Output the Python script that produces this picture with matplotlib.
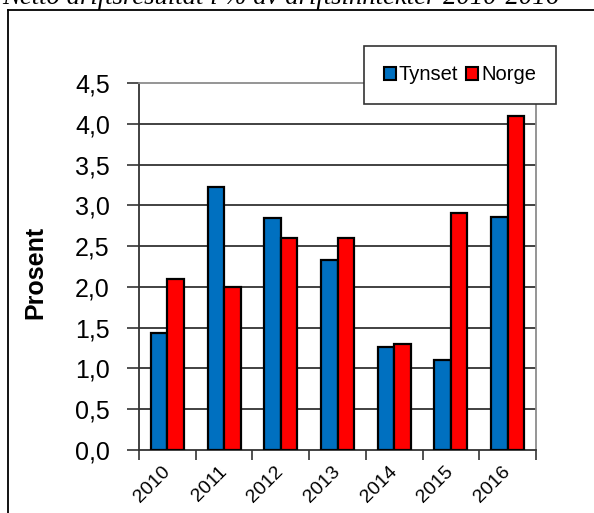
import numpy as np
import matplotlib.pyplot as plt
from matplotlib.lines import Line2D
from matplotlib.patches import Patch

# ========== 数据 ==========
years = ['2010', '2011', '2012', '2013', '2014', '2015', '2016']
tynset = [1.43, 3.22, 2.84, 2.33, 1.26, 1.10, 2.86]
norge = [2.1, 2.0, 2.6, 2.6, 1.3, 2.9, 4.1]
yticks = [0.0, 0.5, 1.0, 1.5, 2.0, 2.5, 3.0, 3.5, 4.0, 4.5]
ytick_labels = ['0,0', '0,5', '1,0', '1,5', '2,0', '2,5', '3,0', '3,5', '4,0', '4,5']
title = 'Netto driftsresultat i % av driftsinntekter 2010-2016'

W, H = 594, 513
fig = plt.figure(figsize=(W / 100, H / 100), dpi=100)
plt.rcParams['font.family'] = ['Liberation Sans', 'DejaVu Sans']

# 绘图区
ax = fig.add_axes([139 / W, 1 - 450 / H, (536 - 139) / W, (450 - 83) / H])
x = np.arange(len(years))
bw = 0.29
ax.bar(x - bw / 2, tynset, bw, color='#0070C0', edgecolor='black', linewidth=1.6, zorder=3)
ax.bar(x + bw / 2, norge, bw, color='#FF0000', edgecolor='black', linewidth=1.6, zorder=3)

ax.set_xlim(-0.5, len(years) - 0.5)
ax.set_ylim(0, 4.5)
ax.set_yticks(yticks)
ax.set_yticklabels(ytick_labels, fontsize=18)
ax.tick_params(axis='y', length=9, width=1.2, color='#333333', pad=12)

# x轴：刻度在类别边界，标签在中心
ax.set_xticks(np.arange(-0.5, len(years), 1.0))
ax.set_xticklabels([])
ax.tick_params(axis='x', which='major', length=7, width=1.2, color='#333333')
ax.set_xticks(x, minor=True)
ax.set_xticklabels(years, minor=True, fontsize=14, rotation=45,
                   ha='right', va='center', rotation_mode='anchor')
ax.tick_params(axis='x', which='minor', length=0, pad=14)

# 网格线
for v in yticks[1:-1]:
    ax.axhline(v, color='#333333', linewidth=1.3, zorder=1)

ax.spines['left'].set_color('#333333')
ax.spines['bottom'].set_color('#333333')
ax.spines['left'].set_linewidth(1.3)
ax.spines['bottom'].set_linewidth(1.3)
ax.spines['top'].set_color('#8c8c8c')
ax.spines['right'].set_color('#8c8c8c')
ax.spines['top'].set_linewidth(1.3)
ax.spines['right'].set_linewidth(1.3)

fig.text(35 / W, 1 - 272 / H, 'Prosent', rotation=90, fontsize=18,
         fontweight='bold', ha='center', va='center')

# 图例
handles = [Patch(facecolor='#0070C0', edgecolor='black', linewidth=1.5),
           Patch(facecolor='#FF0000', edgecolor='black', linewidth=1.5)]
leg = fig.legend(handles, ['Tynset', 'Norge'], ncol=2, loc='center',
                 bbox_to_anchor=(460 / W, 1 - 75 / H), fontsize=14.5,
                 handlelength=0.6, handleheight=0.6, handletextpad=0.15,
                 columnspacing=0.4, borderpad=0.95, borderaxespad=0, fancybox=False,
                 framealpha=1, edgecolor='#333333')
leg.get_frame().set_linewidth(1.2)

# 外框
fig.add_artist(Line2D([8 / W, 1], [1 - 10 / H, 1 - 10 / H], color='black', linewidth=1.3))
fig.add_artist(Line2D([8 / W, 8 / W], [0, 1 - 10 / H], color='black', linewidth=1.3))

# 标题（上半部分被截掉，与原图一致）
fig.text(2 / W, 1 - 4 / H, title, fontsize=19.3, style='italic',
         family=['Liberation Serif', 'DejaVu Serif'], ha='left', va='baseline')

fig.savefig('out.png', dpi=100)
